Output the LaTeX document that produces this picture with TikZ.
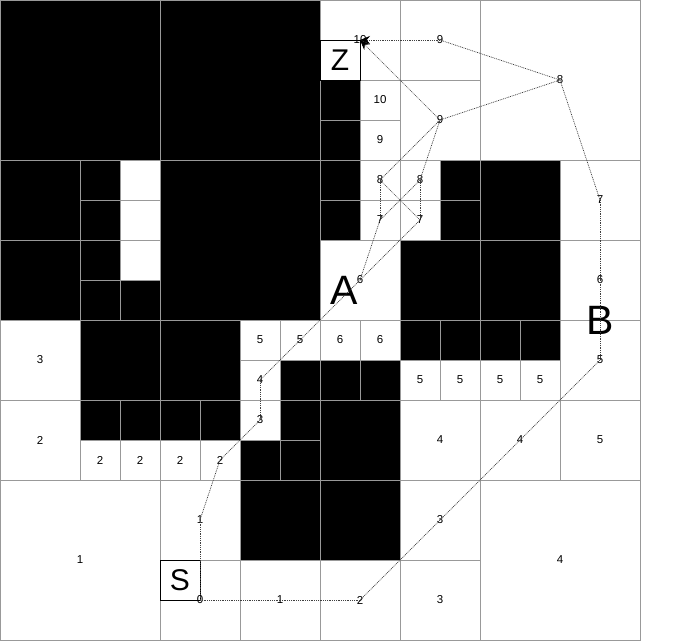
\documentclass[tikz,border=0pt]{standalone}
\usepackage{fontspec}
\setmainfont{Liberation Sans}
\usetikzlibrary{arrows.meta}
\begin{document}
\begin{tikzpicture}[x=1pt,y=-1pt,
  cellb/.style={fill=black,draw=black!40,line width=0.9pt},
  cellw/.style={fill=white,draw=black!40,line width=0.9pt},
  lbl/.style={inner sep=0pt,font=\fontsize{11.5}{12}\selectfont},
  big/.style={inner sep=0pt,font=\fontsize{30}{32}\selectfont},
  huge/.style={inner sep=0pt,font=\fontsize{41}{44}\selectfont},
  pathl/.style={draw=black!75,line width=0.7pt,dash pattern=on 0.9pt off 0.9pt},
  arr/.style={pathl,-{Stealth[length=10pt,width=8pt,color=black]}},
  markbox/.style={draw=black,fill=white,line width=0.9pt}]
\useasboundingbox (0,0) rectangle (696,641);
% black cells
\foreach \x/\y/\w in {0/0/160,160/0/160,0/160/80,80/160/40,80/200/40,0/240/80,80/240/40,80/280/40,120/280/40,160/160/160,
  80/320/80,160/320/80,280/360/40,80/400/40,120/400/40,160/400/40,200/400/40,280/400/40,240/440/40,280/440/40,240/480/80,
  320/80/40,320/120/40,320/160/40,320/200/40,440/160/40,440/200/40,400/240/80,480/160/80,480/240/80,
  320/360/40,360/360/40,400/320/40,440/320/40,480/320/40,520/320/40,320/400/80,320/480/80}
  {\draw[cellb] (\x,\y) rectangle ++(\w,\w);}
% white cells
\foreach \x/\y/\w in {120/160/40,120/200/40,120/240/40,
  320/0/80,400/0/80,480/0/160,360/80/40,360/120/40,400/80/80,
  360/160/40,360/200/40,400/160/40,400/200/40,320/240/80,560/160/80,560/240/80,
  0/320/80,0/400/80,80/440/40,120/440/40,240/320/40,280/320/40,240/360/40,160/440/40,200/440/40,240/400/40,
  0/480/160,160/480/80,160/560/80,240/560/80,
  320/320/40,360/320/40,400/360/40,440/360/40,400/400/80,480/360/40,520/360/40,560/320/80,480/400/80,560/400/80,
  400/480/80,320/560/80,400/560/80,480/480/160}
  {\draw[cellw] (\x,\y) rectangle ++(\w,\w);}
% marker boxes
\draw[markbox] (320,40) rectangle (360,80);
\draw[markbox] (160,560) rectangle (200,600);
\node[big] (Z) at (340,60) {Z};
\node[big] (S) at (180,580) {S};
\node[huge] (A) at (344,290) {A};
\node[huge] (B) at (600,320) {B};
% labels
\node[lbl] (a360x40) at (360,40) {10};
\node[lbl] (a440x40) at (440,40) {9};
\node[lbl] (a560x80) at (560,80) {8};
\node[lbl] (a380x100) at (380,100) {10};
\node[lbl] (a380x140) at (380,140) {9};
\node[lbl] (a440x120) at (440,120) {9};
\node[lbl] (a380x180) at (380,180) {8};
\node[lbl] (a420x180) at (420,180) {8};
\node[lbl] (a380x220) at (380,220) {7};
\node[lbl] (a420x220) at (420,220) {7};
\node[lbl] (a360x280) at (360,280) {6};
\node[lbl] (a600x200) at (600,200) {7};
\node[lbl] (a600x280) at (600,280) {6};
\node[lbl] (a40x360) at (40,360) {3};
\node[lbl] (a40x440) at (40,440) {2};
\node[lbl] (a100x460) at (100,460) {2};
\node[lbl] (a140x460) at (140,460) {2};
\node[lbl] (a180x460) at (180,460) {2};
\node[lbl] (a220x460) at (220,460) {2};
\node[lbl] (a260x340) at (260,340) {5};
\node[lbl] (a300x340) at (300,340) {5};
\node[lbl] (a260x380) at (260,380) {4};
\node[lbl] (a260x420) at (260,420) {3};
\node[lbl] (a80x560) at (80,560) {1};
\node[lbl] (a200x520) at (200,520) {1};
\node[lbl] (a200x600) at (200,600) {0};
\node[lbl] (a280x600) at (280,600) {1};
\node[lbl] (a340x340) at (340,340) {6};
\node[lbl] (a380x340) at (380,340) {6};
\node[lbl] (a420x380) at (420,380) {5};
\node[lbl] (a460x380) at (460,380) {5};
\node[lbl] (a500x380) at (500,380) {5};
\node[lbl] (a540x380) at (540,380) {5};
\node[lbl] (a600x360) at (600,360) {5};
\node[lbl] (a440x440) at (440,440) {4};
\node[lbl] (a520x440) at (520,440) {4};
\node[lbl] (a600x440) at (600,440) {5};
\node[lbl] (a440x520) at (440,520) {3};
\node[lbl] (a360x600) at (360,600) {2};
\node[lbl] (a440x600) at (440,600) {3};
\node[lbl] (a560x560) at (560,560) {4};
% path connectors
\foreach \p/\q in {a200x600/a200x520,a200x600/a280x600,a280x600/a360x600,a200x520/a220x460,
  a220x460/a260x420,a260x420/a260x380,a260x380/a300x340,a300x340/a360x280,
  a360x280/a380x220,a360x280/a420x220,a380x220/a380x180,a420x220/a420x180,
  a380x180/a420x220,a420x180/a380x220,a380x180/a440x120,a420x180/a440x120,
  a440x120/a560x80,a560x80/a440x40,a560x80/a600x200,a600x200/a600x280,
  a600x280/a600x360,a600x360/a520x440,a520x440/a440x520,a440x520/a360x600}
  {\draw[pathl] (\p.center) -- (\q.center);}
\draw[arr] (a440x120.center) -- (a360x40.center);
\draw[arr] (a440x40.center) -- (a360x40.center);
\end{tikzpicture}
\end{document}
